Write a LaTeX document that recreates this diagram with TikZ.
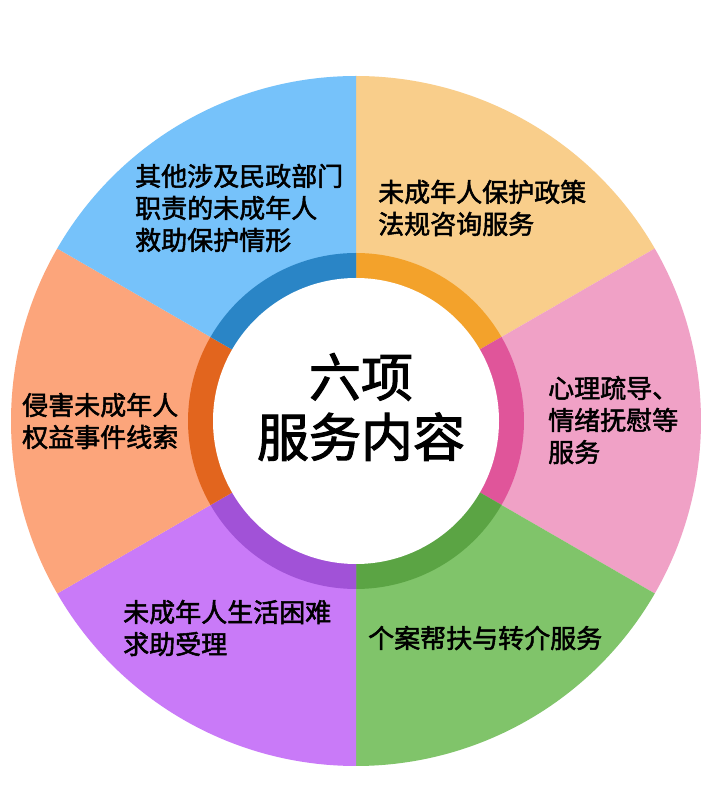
\documentclass[tikz,border=0pt]{standalone}
\usepackage{fontspec}
\newfontfamily\cjk{Noto Sans CJK SC}[FakeBold=2]
\usetikzlibrary{positioning}
\definecolor{sky}{HTML}{76C2FA}
\definecolor{skyring}{HTML}{2A85C6}
\definecolor{peach}{HTML}{F9CE8B}
\definecolor{peachring}{HTML}{F3A22B}
\definecolor{rose}{HTML}{F0A1C6}
\definecolor{rosering}{HTML}{E0559A}
\definecolor{leaf}{HTML}{80C46A}
\definecolor{leafring}{HTML}{5BA444}
\definecolor{lilac}{HTML}{C97AF8}
\definecolor{lilacring}{HTML}{A152D7}
\definecolor{salmon}{HTML}{FCA57B}
\definecolor{salmonring}{HTML}{E2651E}
\tikzset{
    % Text
    item text/.style={anchor=west,inner sep=0pt,align=left,
        font=\cjk\fontsize{26}{32}\selectfont},
    title text/.style={inner sep=0pt,align=center,
        font=\cjk\fontsize{52}{60}\selectfont},
    %
    % Radii
    outer radius/.style={radius=345pt},
    ring radius/.style={radius=168pt},
    hole radius/.style={radius=143pt}
}

\begin{document}
\begin{tikzpicture}[x=1pt,y=1pt]
    \useasboundingbox[fill=white] (0,0) rectangle (711,796);
    \coordinate (c) at (356,375);
    % sectors and ring
    \foreach \a/\col in {90/peach,30/rose,-30/leaf,-90/lilac,-150/salmon,150/sky}{
        \fill[\col] (c) -- ++(\a:345) arc[start angle=\a,delta angle=-60,outer radius] -- cycle;
        \fill[\col ring] (c) -- ++(\a:168) arc[start angle=\a,delta angle=-60,ring radius] -- cycle;
    }
    \fill[white] (c) circle[hole radius];
    % labels
    \node[title text] (title) at (361,389) {六项\\服务内容};
    \node[item text] (help) at (135,588) {其他涉及民政部门\\职责的未成年人\\救助保护情形};
    \node[item text] (law) at (378,588) {未成年人保护政策\\法规咨询服务};
    \node[item text] (mind) at (548,376) {心理疏导、\\情绪抚慰等\\服务};
    \node[item text] (clue) at (22,375) {侵害未成年人\\权益事件线索};
    \node[item text] (need) at (123,168) {未成年人生活困难\\求助受理};
    \node[item text] (case) at (368,158) {个案帮扶与转介服务};
\end{tikzpicture}
\end{document}
